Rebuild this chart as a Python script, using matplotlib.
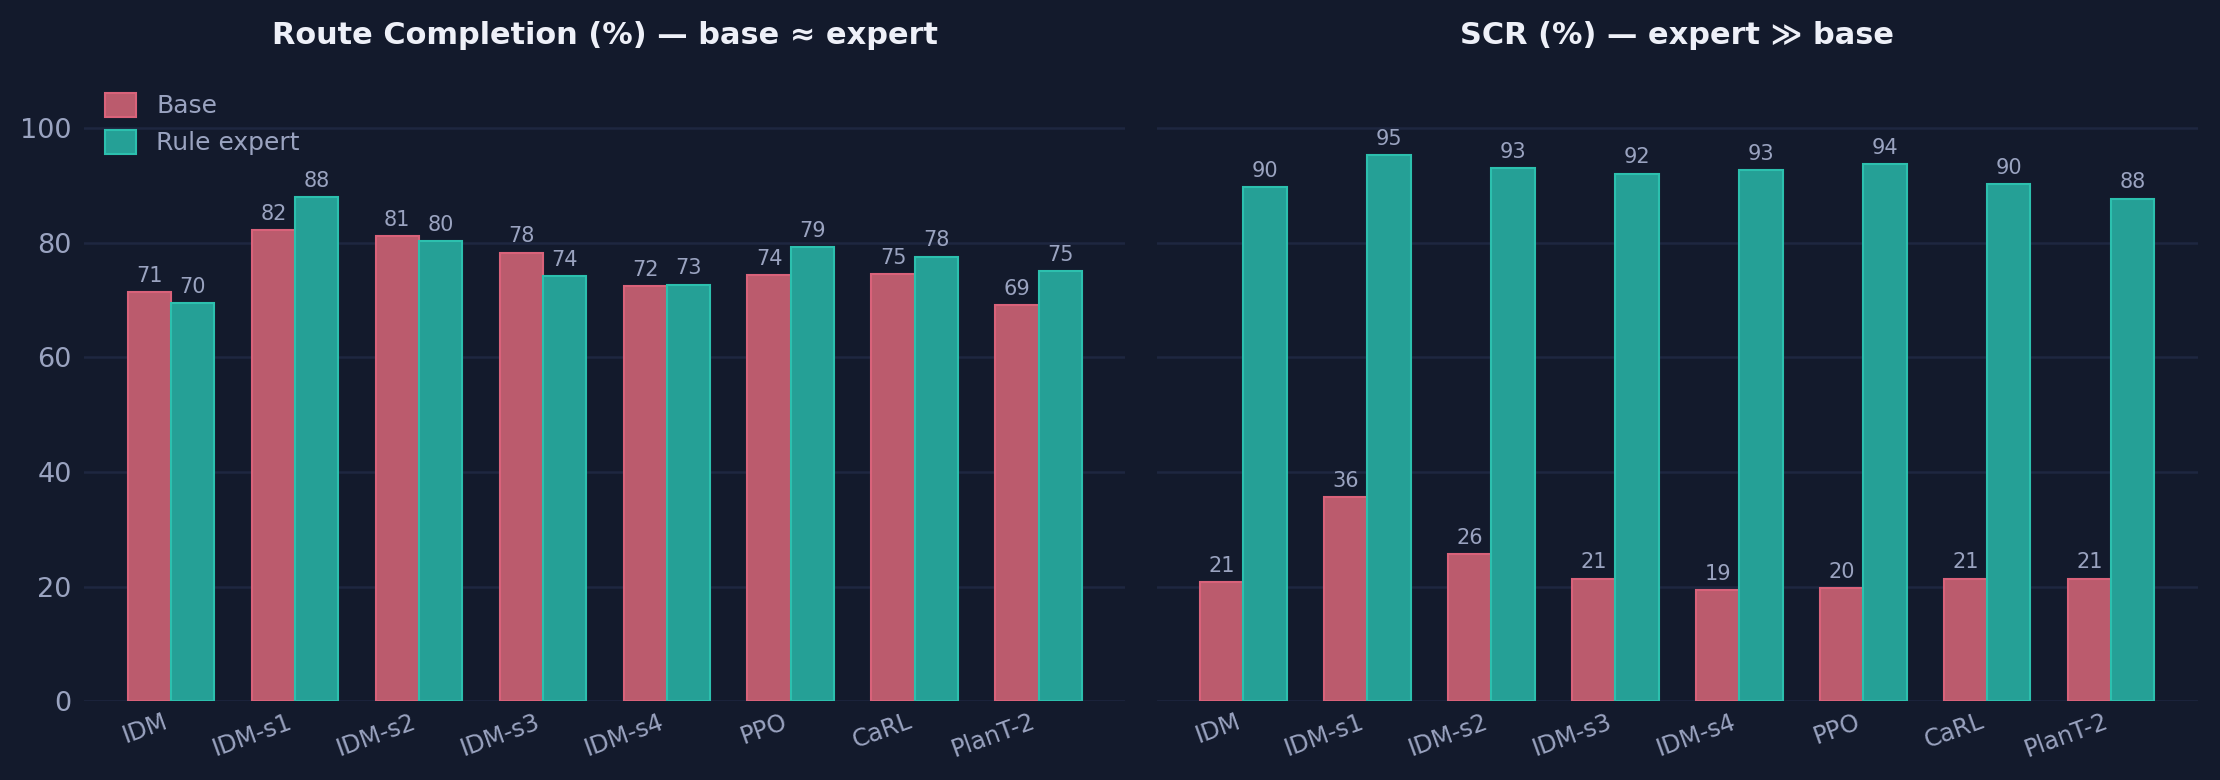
import numpy as np
import matplotlib.pyplot as plt

# dados
methods = ["IDM", "IDM-s1", "IDM-s2", "IDM-s3", "IDM-s4", "PPO", "CaRL", "PlanT-2"]
rc_base = [71.4, 82.2, 81.2, 78.3, 72.4, 74.4, 74.6, 69.1]
rc_expert = [69.5, 88.0, 80.3, 74.2, 72.7, 79.3, 77.6, 75.1]
scr_base = [20.8, 35.6, 25.7, 21.4, 19.4, 19.8, 21.4, 21.4]
scr_expert = [89.7, 95.3, 93.1, 92.1, 92.7, 93.8, 90.2, 87.7]

BG = "#131a2c"
GRID = "#1e2740"
TXT = "#9aa3c0"
TITLE = "#eef0f8"
C_BASE = "#bb5b6d"
E_BASE = "#d9627a"
C_EXP = "#25a096"
E_EXP = "#2cc0ae"

plt.rcParams["font.family"] = ["DejaVu Sans"]

fig, axes = plt.subplots(1, 2, figsize=(14.8, 5.2), dpi=150, sharey=True)
fig.patch.set_facecolor(BG)
fig.subplots_adjust(left=0.038, right=0.99, top=0.909, bottom=0.101, wspace=0.03)

x = np.arange(len(methods))
w = 0.35

panels = [
    (axes[0], rc_base, rc_expert, "Route Completion (%) — base ≈ expert"),
    (axes[1], scr_base, scr_expert, "SCR (%) — expert ≫ base"),
]

for ax, base, expert, title in panels:
    ax.set_facecolor(BG)
    b1 = ax.bar(x - w / 2, base, w, color=C_BASE, edgecolor=E_BASE, linewidth=1, label="Base", zorder=3)
    b2 = ax.bar(x + w / 2, expert, w, color=C_EXP, edgecolor=E_EXP, linewidth=1, label="Rule expert", zorder=3)
    ax.bar_label(b1, labels=[f"{v:.0f}" for v in base], padding=3, color=TXT, fontsize=10)
    ax.bar_label(b2, labels=[f"{v:.0f}" for v in expert], padding=3, color=TXT, fontsize=10)

    ax.set_title(title, color=TITLE, fontsize=14.6, fontweight="bold", pad=13)
    ax.set_xticks(x)
    ax.set_xticklabels(methods, rotation=20, ha="right")
    ax.tick_params(axis="x", colors=TXT, labelsize=11.5, length=0, pad=4)
    ax.tick_params(axis="y", colors=TXT, labelsize=13, length=0, pad=6)
    ax.set_xlim(-0.7, 7.7)
    ax.set_ylim(0, 110)
    ax.set_yticks([0, 20, 40, 60, 80, 100])
    ax.grid(axis="y", color=GRID, linewidth=1.2, zorder=0)
    for s in ax.spines.values():
        s.set_visible(False)

axes[1].tick_params(axis="y", labelleft=False)

leg = axes[0].legend(loc="upper left", bbox_to_anchor=(0.003, 0.993), frameon=False, fontsize=12,
                     handlelength=1.25, handleheight=1.1, handletextpad=0.8, labelspacing=0.45,
                     borderaxespad=0.3)
for t in leg.get_texts():
    t.set_color(TXT)

plt.savefig("out.png", facecolor=BG)
